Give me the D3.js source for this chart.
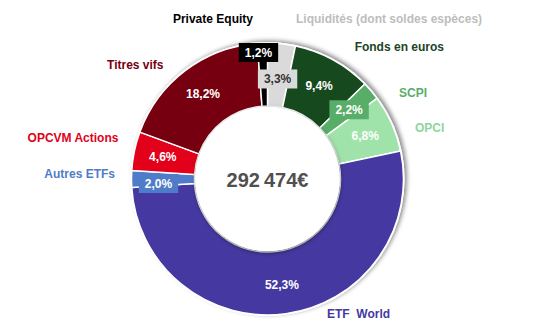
<!DOCTYPE html>
<html>
<head>
<meta charset="utf-8">
<script src="https://cdn.jsdelivr.net/npm/d3@7"></script>
<style>
  html, body { margin: 0; padding: 0; background: #fff; }
  svg { display: block; }
  text { font-family: "Liberation Sans", Arial, sans-serif; font-weight: bold; }
</style>
</head>
<body>
<svg id="chart" width="538" height="330"></svg>
<script>
// Portfolio allocation, clockwise from 12 o'clock
const categories = [
  "Liquidités (dont soldes espèces)", "Fonds en euros", "SCPI", "OPCI",
  "ETF  World", "Autres ETFs", "OPCVM Actions", "Titres vifs", "Private Equity"
];
const shares = [3.3, 9.4, 2.2, 6.8, 52.3, 2.0, 4.6, 18.2, 1.2];
const sliceColors = ["#dadada", "#164a1e", "#58ad68", "#9fe3aa", "#4539a1", "#4f7cc9", "#e2001a", "#770010", "#000000"];
const nameColors  = ["#bdbdbd", "#1b4526", "#5aad6a", "#8ed69a", "#4539a1", "#4f7cc9", "#e2001a", "#770010", "#000000"];
const totalValue = 292474;

const W = 538, H = 330;
const cx = 267.5, cy = 179;
const rOuter = 136, rInner = 73, rHole = 72;

const loc = d3.formatLocale({ decimal: ",", thousands: "\u202f", grouping: [3], currency: ["", "€"] });
const fmtPct = loc.format(".1f");
const fmtTotal = loc.format("$,.0f");

const svg = d3.select("#chart");
const defs = svg.append("defs");

const ringShadow = defs.append("filter").attr("id", "ringShadow")
  .attr("x", "-20%").attr("y", "-20%").attr("width", "140%").attr("height", "140%");
ringShadow.append("feDropShadow").attr("dx", 2.5).attr("dy", -1.5)
  .attr("stdDeviation", 2.2).attr("flood-color", "#000").attr("flood-opacity", 0.45);

const holeShadow = defs.append("filter").attr("id", "holeShadow")
  .attr("x", "-20%").attr("y", "-20%").attr("width", "140%").attr("height", "140%");
holeShadow.append("feDropShadow").attr("dx", 0.5).attr("dy", 1.5)
  .attr("stdDeviation", 2.4).attr("flood-color", "#000").attr("flood-opacity", 0.55);

const data = categories.map((name, i) => ({ name, value: shares[i], i }));

const pie = d3.pie().value(d => d.value).sort(null);
const arcs = pie(data);
const arc = d3.arc().innerRadius(rInner).outerRadius(rOuter);
const labelArc = d3.arc().innerRadius(107).outerRadius(107);
const nameArc = d3.arc().innerRadius(152).outerRadius(152);

const g = svg.append("g").attr("transform", `translate(${cx},${cy})`);

// outer disc carrying the shadow and white rim
g.append("circle").attr("r", rOuter + 1).attr("fill", "#fff")
  .attr("filter", "url(#ringShadow)");

g.selectAll("path.slice").data(arcs).join("path")
  .attr("class", "slice")
  .attr("d", arc)
  .attr("fill", d => sliceColors[d.data.i])
  .attr("stroke", "#fff").attr("stroke-width", 1.5).attr("stroke-linejoin", "round");

// central hole
g.append("circle").attr("r", rHole).attr("fill", "#fff")
  .attr("filter", "url(#holeShadow)");
g.append("circle").attr("r", rHole).attr("fill", "#fff");

g.append("text")
  .attr("y", 1).attr("dy", "0.35em")
  .attr("text-anchor", "middle")
  .attr("font-size", 20)
  .attr("fill", "#505050")
  .text(fmtTotal(totalValue));

// percentage labels: small slices get a filled tag, top two tags are spread apart
const pctNudge = { 0: [-1, 6.4], 5: [-2, 4.5], 8: [-5, -19.6] };
const pctG = g.selectAll("g.pct").data(arcs).join("g")
  .attr("class", "pct")
  .attr("transform", d => {
    const [x, y] = labelArc.centroid(d);
    const n = pctNudge[d.data.i] || [0, 0];
    return `translate(${x + n[0]},${y + n[1]})`;
  });

pctG.each(function(d) {
  const sel = d3.select(this);
  const boxed = d.data.value < 4;
  const t = sel.append("text")
    .attr("text-anchor", "middle").attr("dy", "0.36em")
    .attr("font-size", 12)
    .attr("fill", d.data.i === 0 ? "#333" : "#fff")
    .text(fmtPct(d.data.value) + "%");
  if (boxed) {
    const w = t.node().getComputedTextLength() + 12;
    sel.insert("rect", "text")
      .attr("x", -w / 2).attr("y", -9.5)
      .attr("width", w).attr("height", 19)
      .attr("fill", sliceColors[d.data.i]);
  }
});

// category names around the ring
const nameNudge = {
  0: [12.8, -9.3], 1: [13.9, 1], 2: [15.6, 11.9], 3: [8.8, 11.1], 4: [39, -15.6],
  5: [-0.5, -5.5], 6: [-0.3, -10.2], 7: [-12.3, 6.7], 8: [-8.8, -8.6]
};
g.selectAll("text.name").data(arcs).join("text")
  .attr("class", "name")
  .attr("font-size", 12)
  .attr("dy", "0.36em")
  .style("white-space", "pre")
  .attr("fill", d => nameColors[d.data.i])
  .attr("text-anchor", d => ((d.startAngle + d.endAngle) / 2 < Math.PI ? "start" : "end"))
  .attr("transform", d => {
    const [x, y] = nameArc.centroid(d);
    const n = nameNudge[d.data.i];
    return `translate(${x + n[0]},${y + n[1]})`;
  })
  .text(d => d.data.name);
</script>
</body>
</html>
